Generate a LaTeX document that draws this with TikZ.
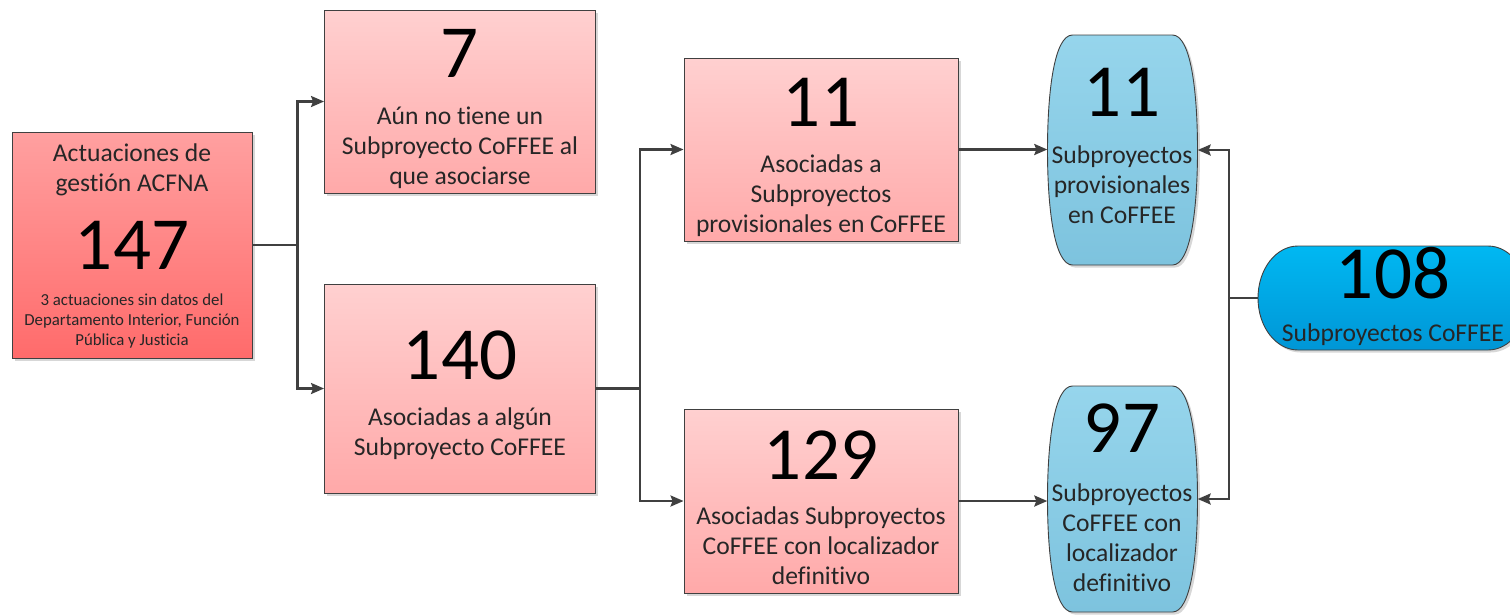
\documentclass[tikz,border=0pt]{standalone}
\usepackage{fontspec}
\setmainfont{Carlito}[Ligatures={NoCommon}]
\usetikzlibrary{arrows.meta}
\definecolor{pinkTop}{HTML}{FFD0D0}
\definecolor{pinkBot}{HTML}{FFA9A9}
\definecolor{redTop}{HTML}{FFA0A0}
\definecolor{redBot}{HTML}{FF6B6B}
\definecolor{skyTop}{HTML}{96D5EC}
\definecolor{skyBot}{HTML}{7DC3DE}
\definecolor{cyanTop}{HTML}{00B8F2}
\definecolor{cyanBot}{HTML}{0096D6}
\definecolor{edge}{HTML}{404040}
\definecolor{txt}{HTML}{262626}
\tikzset{
  shadowed/.style={preaction={fill=black!35, opacity=0.45, transform canvas={xshift=2.5pt,yshift=-2.5pt}}},
  boxpink/.style={rectangle, draw=edge, line width=0.9pt, top color=pinkTop, bottom color=pinkBot, shadowed, inner sep=0pt},
  boxred/.style={rectangle, draw=edge, line width=0.9pt, top color=redTop, bottom color=redBot, shadowed, inner sep=0pt},
  anchorbox/.style={rectangle, inner sep=0pt},
  skyshape/.style={draw=edge, line width=0.9pt, top color=skyTop, bottom color=skyBot, shadowed},
  cyanshape/.style={draw=edge, line width=0.9pt, top color=cyanTop, bottom color=cyanBot, shadowed},
  num/.style={inner sep=0pt, text=black, font=\fontsize{75}{75}\selectfont},
  lbl/.style={inner sep=0pt, text=txt, align=center, font=\fontsize{25.6}{30}\selectfont},
  small/.style={inner sep=0pt, text=txt, align=center, font=\fontsize{16.8}{20}\selectfont},
  wire/.style={draw=edge, line width=2.3pt},
  arr/.style={wire, -{Stealth[length=13pt,width=11pt,inset=2pt]}},
}
\begin{document}
\begin{tikzpicture}[x=1pt,y=-1pt]
\useasboundingbox (0,0) rectangle (1510,614);

% boxes
\node[boxred, minimum width=240pt, minimum height=226pt] (A) at (132,245) {};
\node[boxpink, minimum width=271pt, minimum height=183pt] (B) at (460,101.5) {};
\node[boxpink, minimum width=271pt, minimum height=209pt] (C) at (460,388.5) {};
\node[boxpink, minimum width=274pt, minimum height=183pt] (D) at (821,149.5) {};
\node[boxpink, minimum width=274pt, minimum height=184pt] (E) at (821,501) {};

% rounded blue shapes
\node[anchorbox, minimum width=150pt, minimum height=230pt] (F) at (1122.5,150) {};
\node[anchorbox, minimum width=150pt, minimum height=226pt] (G) at (1122.5,499) {};
\node[anchorbox, minimum width=270pt, minimum height=104pt] (H) at (1393,298) {};

\draw[skyshape, shift={(F.center)}] (-50,-115) -- (50,-115)
  .. controls (68,-115) and (75,-60) .. (75,0)
  .. controls (75,60) and (68,115) .. (50,115) -- (-50,115)
  .. controls (-68,115) and (-75,60) .. (-75,0)
  .. controls (-75,-60) and (-68,-115) .. cycle;
\draw[skyshape, shift={(G.center)}] (-50,-113) -- (50,-113)
  .. controls (68,-113) and (75,-59) .. (75,0)
  .. controls (75,59) and (68,113) .. (50,113) -- (-50,113)
  .. controls (-68,113) and (-75,59) .. (-75,0)
  .. controls (-75,-59) and (-68,-113) .. cycle;
\draw[cyanshape, shift={(H.center)}] (-95,-52) -- (95,-52)
  .. controls (117,-52) and (135,-29) .. (135,0)
  .. controls (135,29) and (117,52) .. (95,52) -- (-95,52)
  .. controls (-117,52) and (-135,29) .. (-135,0)
  .. controls (-135,-29) and (-117,-52) .. cycle;

% texts
\node[lbl] (At) at (132,170) {Actuaciones de\\gestión ACFNA};
\node[num] (An) at (132,245) {147};
\node[small] (As) at (132,321) {3 actuaciones sin datos del\\Departamento Interior, Función\\Pública y Justicia};

\node[num] (Bn) at (460,53) {7};
\node[lbl] (Bt) at (460,148) {Aún no tiene un\\Subproyecto CoFFEE al\\que asociarse};

\node[num] (Cn) at (460,355) {140};
\node[lbl] (Ct) at (460,434) {Asociadas a algún\\Subproyecto CoFFEE};

\node[num] (Dn) at (821,102) {11};
\node[lbl] (Dt) at (821,196) {Asociadas a\\Subproyectos\\provisionales en CoFFEE};

\node[num] (En) at (821,455) {129};
\node[lbl] (Et) at (821,546) {Asociadas Subproyectos\\CoFFEE con localizador\\definitivo};

\node[num] (Fn) at (1122,92) {11};
\node[lbl] (Ft) at (1122,185) {Subproyectos\\provisionales\\en CoFFEE};

\node[num] (Gn) at (1122,428) {97};
\node[lbl] (Gt) at (1122,538) {Subproyectos\\CoFFEE con\\localizador\\definitivo};

\node[num] (Hn) at (1393,273) {108};
\node[lbl] (Ht) at (1393,335) {Subproyectos CoFFEE};

% connectors
\draw[wire] (A.east) -- ++(45,0) coordinate (j1);
\draw[arr] (j1) |- (B.west);
\draw[arr] (j1) |- (C.west);
\draw[wire] (C.east) -- ++(44,0) coordinate (j2);
\draw[arr] (j2) |- (D.west);
\draw[arr] (j2) |- (E.west);
\draw[arr] (D.east) -- (D.east -| F.west);
\draw[arr] (E.east) -- (E.east -| G.west);
\draw[wire] (H.west) -- ++(-29,0) coordinate (j3);
\draw[arr] (j3) |- (F.east);
\draw[arr] (j3) |- (G.east);
\end{tikzpicture}
\end{document}
